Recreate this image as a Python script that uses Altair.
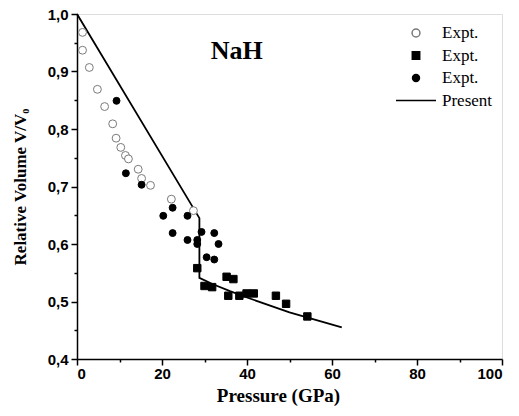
import altair as alt
import pandas as pd

# Open circles (Expt. 1)
open_p = [1.3, 1.3, 2.9, 4.8, 6.5, 8.4, 9.2, 10.3, 11.4, 12.1, 14.4, 15.2, 17.3, 22.2, 27.4]
open_v = [0.968, 0.937, 0.907, 0.869, 0.839, 0.809, 0.784, 0.768, 0.754, 0.748, 0.730, 0.714, 0.702, 0.678, 0.658]

# Filled squares (Expt. 2)
sq_p = [28.3, 35.2, 36.8, 30.0, 31.8, 35.6, 38.2, 39.9, 41.6, 46.8, 49.2, 54.2]
sq_v = [0.558, 0.543, 0.539, 0.527, 0.525, 0.510, 0.510, 0.514, 0.514, 0.510, 0.496, 0.474]

# Filled circles (Expt. 3)
fc_p = [9.3, 11.5, 15.2, 20.3, 22.5, 26.0, 22.5, 26.0, 28.3, 28.3, 29.3, 32.3, 33.3, 30.5, 32.3]
fc_v = [0.849, 0.723, 0.703, 0.649, 0.663, 0.649, 0.619, 0.607, 0.607, 0.600, 0.621, 0.619, 0.600, 0.577, 0.573]

# Present calculation (line)
line_p = [0.0, 28.8, 28.8, 32.0, 36.0, 40.0, 50.0, 62.3]
line_v = [1.000, 0.645, 0.541, 0.530, 0.518, 0.507, 0.481, 0.455]

series_names = ["Expt. 1", "Expt. 2", "Expt. 3", "Present"]
label_text = ["NaH"]
label_p = [37.6]
label_v = [0.9365]

x_major = [0, 20, 40, 60, 80, 100]
x_minor = [10, 30, 50, 70, 90]
y_major = [0.4, 0.5, 0.6, 0.7, 0.8, 0.9, 1.0]
y_minor = [0.45, 0.55, 0.65, 0.75, 0.85, 0.95]

pts = pd.DataFrame(
    {"P": open_p + sq_p + fc_p,
     "V": open_v + sq_v + fc_v,
     "series": [series_names[0]] * len(open_p) + [series_names[1]] * len(sq_p) + [series_names[2]] * len(fc_p)}
)
line_df = pd.DataFrame({"P": line_p, "V": line_v, "i": list(range(len(line_p)))})
lab_df = pd.DataFrame({"P": label_p, "V": label_v, "t": label_text})

xs = alt.Scale(domain=[0, 100], nice=False)
ys = alt.Scale(domain=[0.4, 1.0], nice=False, zero=False)

num_fmt = "replace(format(datum.value, '.1f'), '.', ',')"

x_axis = alt.Axis(values=x_major, title="Pressure (GPa)", labelFont="Liberation Sans",
                  labelFontWeight="bold", labelFontSize=15, labelColor="black",
                  labelPadding=1, tickSize=6, tickWidth=1.5, tickColor="black",
                  domainColor="black", domainWidth=1.5, grid=False, orient="bottom",
                  titleFont="Liberation Serif", titleFontWeight="bold", titleFontSize=19,
                  titleColor="black", titlePadding=5, titleX=201, titleAlign="center")
y_axis = alt.Axis(values=y_major, title="Relative Volume V/V₀", labelExpr=num_fmt,
                  labelFont="Liberation Sans", labelFontWeight="bold", labelFontSize=15,
                  labelColor="black", labelPadding=3, tickSize=6, tickWidth=1.5,
                  tickColor="black", domainColor="black", domainWidth=1.5, grid=False,
                  orient="left",
                  titleFont="Liberation Serif", titleFontWeight="bold", titleFontSize=17,
                  titleColor="black", titlePadding=18)

x_axis_minor = alt.Axis(values=x_minor, labels=False, title=None, tickSize=3, tickWidth=1.5,
                        tickColor="black", domain=False, grid=False, orient="bottom")
y_axis_minor = alt.Axis(values=y_minor, labels=False, title=None, tickSize=3, tickWidth=1.5,
                        tickColor="black", domain=False, grid=False, orient="left")

line = alt.Chart(line_df).mark_line(color="black", strokeWidth=1.8).encode(
    x=alt.X("P:Q", scale=xs, axis=x_axis),
    y=alt.Y("V:Q", scale=ys, axis=y_axis),
    order="i:Q",
)

minor = alt.Chart(line_df).mark_point(opacity=0).encode(
    x=alt.X("P:Q", scale=xs, axis=x_axis_minor),
    y=alt.Y("V:Q", scale=ys, axis=y_axis_minor),
)

legend = alt.Legend(title=None, orient="none", legendX=318, legendY=11,
                    labelExpr="indexof(datum.label, 'Expt') == 0 ? 'Expt.' : datum.label",
                    labelFont="Liberation Serif", labelFontSize=17, labelColor="black",
                    labelOffset=5, rowPadding=5.5, padding=0, symbolStrokeWidth=1.5,
                    symbolOpacity=1, clipHeight=16)

points = alt.Chart(pts).mark_point(filled=True, strokeWidth=1, opacity=1).encode(
    x=alt.X("P:Q", scale=xs, axis=None),
    y=alt.Y("V:Q", scale=ys, axis=None),
    shape=alt.Shape("series:O", scale=alt.Scale(type="ordinal", domain=series_names,
                    range=["circle", "square", "circle", "stroke"]), legend=legend),
    fill=alt.Fill("series:O", scale=alt.Scale(type="ordinal", domain=series_names,
                  range=["white", "black", "black", "transparent"]), legend=legend),
    stroke=alt.Stroke("series:O", scale=alt.Scale(type="ordinal", domain=series_names,
                      range=["#7a7a7a", "black", "black", "black"]), legend=legend),
    size=alt.Size("series:O", scale=alt.Scale(type="ordinal", domain=series_names,
                  range=[62, 55, 48, 1600]), legend=legend),
)

label = alt.Chart(lab_df).mark_text(font="Liberation Serif", fontWeight="bold", fontSize=26,
                                    color="black").encode(
    x=alt.X("P:Q", scale=xs, axis=None), y=alt.Y("V:Q", scale=ys, axis=None), text="t:N")

chart = alt.layer(line, minor, points, label).resolve_axis(
    x="independent", y="independent"
).properties(
    width=425, height=345,
    autosize=alt.AutoSizeParams(type="none"),
    padding={"left": 77, "top": 14, "right": 17, "bottom": 57},
).configure_view(stroke="black", strokeWidth=1.5).configure(background="white")

chart.save("out.html", embed_options={"renderer": "svg", "actions": False})
